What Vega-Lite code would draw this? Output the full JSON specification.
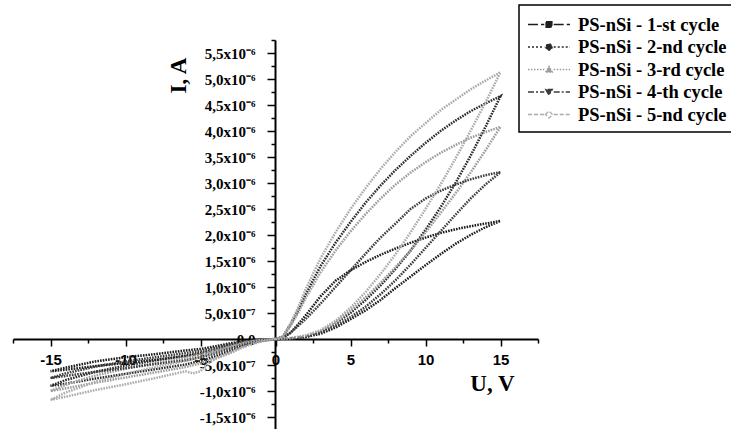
{
  "$schema": "https://vega.github.io/schema/vega-lite/v6.json",
  "width": 525,
  "height": 389,
  "padding": {"left": 13, "top": 40, "right": 193, "bottom": 0},
  "autosize": {"type": "none"},
  "background": "white",
  "config": {"view": {"stroke": null}},
  "data": {"values": [
    {"c":1,"u":0,"i":0},{"c":1,"u":1,"i":0.01},{"c":1,"u":2,"i":0.04},{"c":1,"u":3,"i":0.1},{"c":1,"u":4,"i":0.22},{"c":1,"u":5,"i":0.38},{"c":1,"u":6,"i":0.55},{"c":1,"u":7,"i":0.75},{"c":1,"u":8,"i":0.98},{"c":1,"u":9,"i":1.2},{"c":1,"u":10,"i":1.42},{"c":1,"u":11,"i":1.63},{"c":1,"u":12,"i":1.83},{"c":1,"u":13,"i":2.0},{"c":1,"u":14,"i":2.15},{"c":1,"u":15,"i":2.27},
    {"c":1,"u":14,"i":2.22},{"c":1,"u":13,"i":2.17},{"c":1,"u":12,"i":2.11},{"c":1,"u":11,"i":2.04},{"c":1,"u":10,"i":1.95},{"c":1,"u":9,"i":1.85},{"c":1,"u":8,"i":1.74},{"c":1,"u":7,"i":1.62},{"c":1,"u":6,"i":1.48},{"c":1,"u":5,"i":1.32},{"c":1,"u":4,"i":1.12},{"c":1,"u":3,"i":0.82},{"c":1,"u":2,"i":0.45},{"c":1,"u":1.5,"i":0.28},{"c":1,"u":1,"i":0.12},{"c":1,"u":0.5,"i":0.03},{"c":1,"u":0,"i":0},
    {"c":1,"u":-1,"i":-0.01},{"c":1,"u":-2,"i":-0.04},{"c":1,"u":-3,"i":-0.08},{"c":1,"u":-4,"i":-0.14},{"c":1,"u":-5,"i":-0.19},{"c":1,"u":-6,"i":-0.22},{"c":1,"u":-8,"i":-0.29},{"c":1,"u":-10,"i":-0.35},{"c":1,"u":-12,"i":-0.43},{"c":1,"u":-14,"i":-0.55},{"c":1,"u":-15,"i":-0.62},
    {"c":1,"u":-14,"i":-0.59},{"c":1,"u":-12,"i":-0.52},{"c":1,"u":-10,"i":-0.46},{"c":1,"u":-8,"i":-0.4},{"c":1,"u":-6,"i":-0.33},{"c":1,"u":-5,"i":-0.29},{"c":1,"u":-4,"i":-0.23},{"c":1,"u":-3,"i":-0.16},{"c":1,"u":-2,"i":-0.07},{"c":1,"u":-1,"i":-0.02},{"c":1,"u":0,"i":0},

    {"c":2,"u":0,"i":0},{"c":2,"u":1,"i":0.01},{"c":2,"u":2,"i":0.05},{"c":2,"u":3,"i":0.14},{"c":2,"u":4,"i":0.3},{"c":2,"u":5,"i":0.5},{"c":2,"u":6,"i":0.75},{"c":2,"u":7,"i":1.03},{"c":2,"u":8,"i":1.35},{"c":2,"u":9,"i":1.7},{"c":2,"u":10,"i":2.1},{"c":2,"u":11,"i":2.53},{"c":2,"u":12,"i":3.0},{"c":2,"u":13,"i":3.52},{"c":2,"u":14,"i":4.08},{"c":2,"u":15,"i":4.67},
    {"c":2,"u":14,"i":4.53},{"c":2,"u":13,"i":4.38},{"c":2,"u":12,"i":4.2},{"c":2,"u":11,"i":4.0},{"c":2,"u":10,"i":3.77},{"c":2,"u":9,"i":3.52},{"c":2,"u":8,"i":3.25},{"c":2,"u":7,"i":2.95},{"c":2,"u":6,"i":2.62},{"c":2,"u":5,"i":2.25},{"c":2,"u":4,"i":1.85},{"c":2,"u":3,"i":1.4},{"c":2,"u":2,"i":0.85},{"c":2,"u":1.5,"i":0.55},{"c":2,"u":1,"i":0.28},{"c":2,"u":0.5,"i":0.05},{"c":2,"u":0,"i":0},
    {"c":2,"u":-1,"i":-0.02},{"c":2,"u":-2,"i":-0.05},{"c":2,"u":-3,"i":-0.12},{"c":2,"u":-4,"i":-0.2},{"c":2,"u":-5,"i":-0.27},{"c":2,"u":-6,"i":-0.32},{"c":2,"u":-8,"i":-0.41},{"c":2,"u":-10,"i":-0.51},{"c":2,"u":-12,"i":-0.63},{"c":2,"u":-14,"i":-0.79},{"c":2,"u":-15,"i":-0.9},
    {"c":2,"u":-14,"i":-0.86},{"c":2,"u":-12,"i":-0.76},{"c":2,"u":-10,"i":-0.67},{"c":2,"u":-8,"i":-0.58},{"c":2,"u":-6,"i":-0.49},{"c":2,"u":-5,"i":-0.42},{"c":2,"u":-4,"i":-0.33},{"c":2,"u":-3,"i":-0.23},{"c":2,"u":-2,"i":-0.11},{"c":2,"u":-1,"i":-0.04},{"c":2,"u":0,"i":0},

    {"c":3,"u":0,"i":0},{"c":3,"u":1,"i":0.01},{"c":3,"u":2,"i":0.05},{"c":3,"u":3,"i":0.15},{"c":3,"u":4,"i":0.32},{"c":3,"u":5,"i":0.55},{"c":3,"u":6,"i":0.8},{"c":3,"u":7,"i":1.08},{"c":3,"u":8,"i":1.38},{"c":3,"u":9,"i":1.7},{"c":3,"u":10,"i":2.05},{"c":3,"u":11,"i":2.42},{"c":3,"u":12,"i":2.8},{"c":3,"u":13,"i":3.2},{"c":3,"u":14,"i":3.63},{"c":3,"u":15,"i":4.08},
    {"c":3,"u":14,"i":3.98},{"c":3,"u":13,"i":3.87},{"c":3,"u":12,"i":3.73},{"c":3,"u":11,"i":3.58},{"c":3,"u":10,"i":3.4},{"c":3,"u":9,"i":3.2},{"c":3,"u":8,"i":2.97},{"c":3,"u":7,"i":2.7},{"c":3,"u":6,"i":2.4},{"c":3,"u":5,"i":2.07},{"c":3,"u":4,"i":1.7},{"c":3,"u":3,"i":1.28},{"c":3,"u":2,"i":0.78},{"c":3,"u":1.5,"i":0.5},{"c":3,"u":1,"i":0.25},{"c":3,"u":0.5,"i":0.04},{"c":3,"u":0,"i":0},
    {"c":3,"u":-1,"i":-0.02},{"c":3,"u":-2,"i":-0.06},{"c":3,"u":-3,"i":-0.13},{"c":3,"u":-4,"i":-0.22},{"c":3,"u":-5,"i":-0.3},{"c":3,"u":-6,"i":-0.36},{"c":3,"u":-8,"i":-0.46},{"c":3,"u":-10,"i":-0.57},{"c":3,"u":-12,"i":-0.7},{"c":3,"u":-14,"i":-0.88},{"c":3,"u":-15,"i":-1.0},
    {"c":3,"u":-14,"i":-0.95},{"c":3,"u":-12,"i":-0.84},{"c":3,"u":-10,"i":-0.74},{"c":3,"u":-8,"i":-0.64},{"c":3,"u":-6,"i":-0.54},{"c":3,"u":-5,"i":-0.47},{"c":3,"u":-4,"i":-0.37},{"c":3,"u":-3,"i":-0.25},{"c":3,"u":-2,"i":-0.12},{"c":3,"u":-1,"i":-0.04},{"c":3,"u":0,"i":0},

    {"c":4,"u":0,"i":0},{"c":4,"u":1,"i":0.01},{"c":4,"u":2,"i":0.04},{"c":4,"u":3,"i":0.12},{"c":4,"u":4,"i":0.25},{"c":4,"u":5,"i":0.42},{"c":4,"u":6,"i":0.62},{"c":4,"u":7,"i":0.86},{"c":4,"u":8,"i":1.13},{"c":4,"u":9,"i":1.43},{"c":4,"u":10,"i":1.75},{"c":4,"u":11,"i":2.07},{"c":4,"u":12,"i":2.39},{"c":4,"u":13,"i":2.7},{"c":4,"u":14,"i":2.97},{"c":4,"u":15,"i":3.21},
    {"c":4,"u":14,"i":3.15},{"c":4,"u":13,"i":3.07},{"c":4,"u":12,"i":2.97},{"c":4,"u":11,"i":2.85},{"c":4,"u":10,"i":2.7},{"c":4,"u":9,"i":2.5},{"c":4,"u":8,"i":2.22},{"c":4,"u":7,"i":1.95},{"c":4,"u":6,"i":1.64},{"c":4,"u":5,"i":1.32},{"c":4,"u":4,"i":1.0},{"c":4,"u":3,"i":0.68},{"c":4,"u":2,"i":0.38},{"c":4,"u":1.5,"i":0.25},{"c":4,"u":1,"i":0.12},{"c":4,"u":0.5,"i":0.03},{"c":4,"u":0,"i":0},
    {"c":4,"u":-1,"i":-0.02},{"c":4,"u":-2,"i":-0.05},{"c":4,"u":-3,"i":-0.1},{"c":4,"u":-4,"i":-0.17},{"c":4,"u":-5,"i":-0.23},{"c":4,"u":-6,"i":-0.27},{"c":4,"u":-8,"i":-0.35},{"c":4,"u":-10,"i":-0.43},{"c":4,"u":-12,"i":-0.53},{"c":4,"u":-14,"i":-0.66},{"c":4,"u":-15,"i":-0.75},
    {"c":4,"u":-14,"i":-0.71},{"c":4,"u":-12,"i":-0.63},{"c":4,"u":-10,"i":-0.56},{"c":4,"u":-8,"i":-0.48},{"c":4,"u":-6,"i":-0.41},{"c":4,"u":-5,"i":-0.35},{"c":4,"u":-4,"i":-0.28},{"c":4,"u":-3,"i":-0.19},{"c":4,"u":-2,"i":-0.09},{"c":4,"u":-1,"i":-0.03},{"c":4,"u":0,"i":0},

    {"c":5,"u":0,"i":0},{"c":5,"u":1,"i":0.02},{"c":5,"u":2,"i":0.07},{"c":5,"u":3,"i":0.17},{"c":5,"u":4,"i":0.35},{"c":5,"u":5,"i":0.6},{"c":5,"u":6,"i":0.9},{"c":5,"u":7,"i":1.25},{"c":5,"u":8,"i":1.63},{"c":5,"u":9,"i":2.05},{"c":5,"u":10,"i":2.5},{"c":5,"u":11,"i":2.97},{"c":5,"u":12,"i":3.47},{"c":5,"u":13,"i":4.0},{"c":5,"u":14,"i":4.55},{"c":5,"u":15,"i":5.13},
    {"c":5,"u":14,"i":4.97},{"c":5,"u":13,"i":4.8},{"c":5,"u":12,"i":4.6},{"c":5,"u":11,"i":4.4},{"c":5,"u":10,"i":4.15},{"c":5,"u":9,"i":3.9},{"c":5,"u":8,"i":3.6},{"c":5,"u":7,"i":3.27},{"c":5,"u":6,"i":2.9},{"c":5,"u":5,"i":2.5},{"c":5,"u":4,"i":2.05},{"c":5,"u":3,"i":1.55},{"c":5,"u":2,"i":0.95},{"c":5,"u":1.5,"i":0.6},{"c":5,"u":1,"i":0.3},{"c":5,"u":0.5,"i":0.05},{"c":5,"u":0,"i":0},
    {"c":5,"u":-1,"i":-0.02},{"c":5,"u":-2,"i":-0.07},{"c":5,"u":-3,"i":-0.15},{"c":5,"u":-4,"i":-0.26},{"c":5,"u":-5,"i":-0.35},{"c":5,"u":-6,"i":-0.42},{"c":5,"u":-8,"i":-0.54},{"c":5,"u":-10,"i":-0.67},{"c":5,"u":-12,"i":-0.82},{"c":5,"u":-14,"i":-1.03},{"c":5,"u":-15,"i":-1.17},
    {"c":5,"u":-14,"i":-1.11},{"c":5,"u":-12,"i":-0.98},{"c":5,"u":-10,"i":-0.87},{"c":5,"u":-8,"i":-0.75},{"c":5,"u":-6,"i":-0.62},{"c":5,"u":-5.5,"i":-0.66},{"c":5,"u":-5,"i":-0.62},{"c":5,"u":-4.5,"i":-0.47},{"c":5,"u":-4,"i":-0.38},{"c":5,"u":-3,"i":-0.27},{"c":5,"u":-2,"i":-0.14},{"c":5,"u":-1,"i":-0.05},{"c":5,"u":0,"i":0}
  ]},
  "mark": {"type": "line", "strokeWidth": 2.5, "strokeDash": [1.6, 1.1], "clip": false},
  "encoding": {
    "x": {
      "field": "u", "type": "quantitative",
      "scale": {"domain": [-17.5, 17.5], "nice": false, "zero": false},
      "axis": {
        "orient": "bottom", "offset": -90, "grid": false,
        "values": [-17.5, -15, -12.5, -10, -7.5, -5, -2.5, 0, 2.5, 5, 7.5, 10, 12.5, 15, 17.5],
        "labelExpr": "datum.value % 5 == 0 ? (datum.value < 0 ? '-' : '') + abs(datum.value) : ''",
        "labelFont": "Liberation Sans", "labelFontWeight": "bold", "labelFontSize": 15, "labelColor": "black",
        "labelPadding": 6, "labelOverlap": false, "labelFlush": false, "labelBound": false,
        "tickSize": {"condition": {"test": "datum.value % 5 == 0", "value": 7}, "value": 4},
        "tickColor": "black", "tickWidth": 1.5, "domainColor": "black", "domainWidth": 2,
        "title": "U, V", "titleFont": "Liberation Serif", "titleFontSize": 23, "titleFontWeight": "bold", "titleColor": "black",
        "titleX": 479, "titleY": 44, "titleBaseline": "middle", "titleAlign": "center", "titleAngle": 0
      }
    },
    "y": {
      "field": "i", "type": "quantitative",
      "scale": {"domain": [-1.73, 5.75], "nice": false, "zero": false},
      "axis": {
        "orient": "left", "offset": -262, "grid": false,
        "values": [-1.5, -1.25, -1, -0.75, -0.5, -0.25, 0, 0.25, 0.5, 0.75, 1, 1.25, 1.5, 1.75, 2, 2.25, 2.5, 2.75, 3, 3.25, 3.5, 3.75, 4, 4.25, 4.5, 4.75, 5, 5.25, 5.5, 5.75],
        "labelExpr": "abs(datum.value * 2 - round(datum.value * 2)) > 0.01 ? '' : datum.value == 0 ? '0,0' : abs(datum.value) < 0.9 ? (datum.value < 0 ? '-' : '') + '5,0x10⁻⁷' : (datum.value < 0 ? '-' : '') + replace(format(abs(datum.value), '.1f'), '.', ',') + 'x10⁻⁶'",
        "labelFont": "Liberation Serif", "labelFontWeight": "bold", "labelFontSize": 15, "labelColor": "black",
        "labelPadding": 12, "labelOverlap": false, "labelFlush": false, "labelBound": false,
        "tickSize": {"condition": {"test": "abs(datum.value * 2 - round(datum.value * 2)) < 0.01", "value": 8}, "value": 4},
        "tickColor": "black", "tickWidth": 1.5, "domainColor": "black", "domainWidth": 2,
        "title": "I, A", "titleFont": "Liberation Serif", "titleFontSize": 23, "titleFontWeight": "bold", "titleColor": "black",
        "titleX": -97, "titleY": 35, "titleBaseline": "middle", "titleAlign": "center", "titleAngle": -90
      }
    },
    "order": {"value": null},
    "color": {
      "field": "c", "type": "nominal",
      "scale": {"domain": [1, 2, 3, 4, 5], "range": ["#1c1c1c", "#2a2a2a", "#9c9c9c", "#3c3c3c", "#ababab"]},
      "legend": {
        "orient": "none", "legendX": 506, "legendY": -35, "title": null,
        "labelExpr": "'PS-nSi - ' + ['1-st', '2-nd', '3-rd', '4-th', '5-nd'][datum.value - 1] + ' cycle'",
        "labelFont": "Liberation Serif", "labelFontSize": 18.5, "labelFontWeight": "bold", "labelColor": "black",
        "labelLimit": 400, "labelOffset": 28,
        "strokeColor": "black", "fillColor": "white", "padding": 8, "cornerRadius": 0,
        "symbolType": "M-1,0H0.55M1.45,0H3M0.72,-0.28H1.28V0.28H0.72Z",
        "symbolSize": 441, "symbolStrokeWidth": 1.3, "rowPadding": 1.5,
        "encode": {
          "symbols": {"update": {
            "shape": {"signal": "datum.value == 1 ? 'M-1,0H0.55M1.45,0H3M0.72,-0.28H1.28V0.28H0.72Z' : datum.value == 2 ? 'M-1,0H0.55M1.45,0H3M0.7,0A0.3,0.3,0,1,0,1.3,0A0.3,0.3,0,1,0,0.7,0Z' : datum.value == 3 ? 'M-1,0H0.55M1.45,0H3M0.68,0.25L1,-0.3L1.32,0.25Z' : datum.value == 4 ? 'M-1,0H0.55M1.45,0H3M0.68,-0.25L1,0.3L1.32,-0.25Z' : 'M-1,0H0.55M1.45,0H3M0.66,0L1,-0.34L1.34,0L1,0.34Z'"},
            "fill": {"signal": "datum.value == 5 ? 'white' : scale('color', datum.value)"},
            "strokeDash": {"signal": "datum.value == 1 ? [10, 3] : datum.value == 2 ? [2, 2] : datum.value == 3 ? [1.5, 1.5] : datum.value == 4 ? [6, 2, 2, 2] : [4, 2]"}
          }},
          "legend": {"update": {"strokeWidth": {"value": 1.5}}}
        }
      }
    }
  }
}
